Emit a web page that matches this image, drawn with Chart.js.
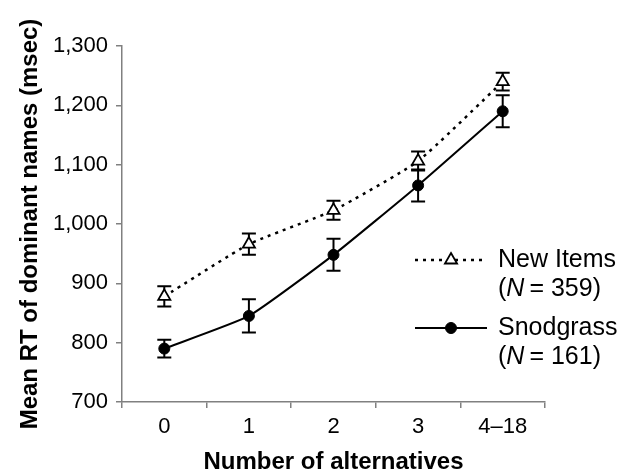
<!DOCTYPE html>
<html>
<head>
<meta charset="utf-8">
<script src="https://cdn.jsdelivr.net/npm/chart.js@4/dist/chart.umd.min.js"></script>
<style>
  html, body { margin: 0; padding: 0; background: #fff; }
  #wrap { width: 624px; height: 474px; position: relative; }
</style>
</head>
<body>
<div id="wrap"><canvas id="rtChart"></canvas></div>
<script>
// ===== DATA =====
const categories = ['0', '1', '2', '3', '4–18'];
const newItemsMeans = [878, 966, 1023, 1106, 1240];
const newItemsErr = [17, 18, 16, 16, 15];
const snodgrassMeans = [790, 845, 948, 1065, 1190];
const snodgrassErr = [15, 28, 27, 27, 27];
const yTicks = [700, 800, 900, 1000, 1100, 1200, 1300];
const seriesNames = ['New Items', 'Snodgrass'];
const seriesCounts = ['359', '161'];

const FONT = "'Liberation Sans', Arial, Helvetica, sans-serif";
const AXIS_GRAY = '#808080';

// Error bars drawn under the markers
const errorBars = {
    id: 'errorBars',
    beforeDatasetsDraw(chart) {
        const ctx = chart.ctx;
        const yScale = chart.scales.y;
        const errs = [newItemsErr, snodgrassErr];
        ctx.save();
        ctx.strokeStyle = '#000';
        ctx.lineWidth = 2;
        chart.data.datasets.forEach((ds, i) => {
            const meta = chart.getDatasetMeta(i);
            meta.data.forEach((pt, j) => {
                const v = ds.data[j];
                const top = yScale.getPixelForValue(v + errs[i][j]);
                const bot = yScale.getPixelForValue(v - errs[i][j]);
                const x = pt.x;
                ctx.beginPath();
                ctx.moveTo(x, top); ctx.lineTo(x, bot);
                ctx.moveTo(x - 7, top); ctx.lineTo(x + 7, top);
                ctx.moveTo(x - 7, bot); ctx.lineTo(x + 7, bot);
                ctx.stroke();
            });
        });
        ctx.restore();
    }
};

// Legend drawn inside the plot, lower right
const insideLegend = {
    id: 'insideLegend',
    afterDraw(chart) {
        const ctx = chart.ctx;
        const area = chart.chartArea;
        const lx0 = area.right - 130, lx1 = area.right - 58, tx = area.right - 47;
        const rows = [area.top + 214, area.top + 282];
        ctx.save();
        rows.forEach((y, i) => {
            const ds = chart.data.datasets[i];
            // sample line
            ctx.strokeStyle = '#000';
            ctx.lineWidth = ds.borderWidth;
            ctx.setLineDash(ds.borderDash || []);
            ctx.beginPath();
            ctx.moveTo(lx0, y); ctx.lineTo(lx1, y);
            ctx.stroke();
            ctx.setLineDash([]);
            // sample marker
            const mx = (lx0 + lx1) / 2;
            ctx.lineWidth = ds.pointBorderWidth;
            ctx.fillStyle = ds.pointBackgroundColor;
            Chart.helpers.drawPoint(ctx, {
                pointStyle: ds.pointStyle,
                radius: ds.pointRadius,
                borderWidth: ds.pointBorderWidth
            }, mx, y);
            // labels
            ctx.fillStyle = '#000';
            ctx.textBaseline = 'middle';
            ctx.textAlign = 'left';
            ctx.font = '25px ' + FONT;
            ctx.fillText(seriesNames[i], tx, y);
            const y2 = y + 29;
            let x = tx;
            ctx.fillText('(', x, y2); x += ctx.measureText('(').width;
            ctx.font = 'italic 25px ' + FONT;
            ctx.fillText('N', x, y2); x += ctx.measureText('N').width;
            ctx.font = '25px ' + FONT;
            ctx.fillText('\u2009= ' + seriesCounts[i] + ')', x, y2);
        });
        ctx.restore();
    }
};

const ctx = document.getElementById('rtChart');
new Chart(ctx, {
    type: 'line',
    data: {
        labels: categories,
        datasets: [
            {
                label: seriesNames[0],
                data: newItemsMeans,
                borderColor: '#000',
                borderWidth: 2.5,
                borderDash: [3, 5],
                tension: 0.15,
                pointStyle: 'triangle',
                pointRadius: 7,
                pointBackgroundColor: '#fff',
                pointBorderColor: '#000',
                pointBorderWidth: 1.8,
                clip: false
            },
            {
                label: seriesNames[1],
                data: snodgrassMeans,
                borderColor: '#000',
                borderWidth: 2,
                tension: 0.15,
                pointStyle: 'circle',
                pointRadius: 5.5,
                pointBackgroundColor: '#000',
                pointBorderColor: '#000',
                pointBorderWidth: 1,
                clip: false
            }
        ]
    },
    options: {
        responsive: true,
        maintainAspectRatio: false,
        animation: false,
        layout: { padding: { top: 46, right: 79, bottom: 0, left: 0 } },
        plugins: {
            legend: { display: false },
            tooltip: { enabled: false }
        },
        scales: {
            x: {
                offset: true,
                grid: {
                    offset: true,
                    drawOnChartArea: false,
                    color: AXIS_GRAY,
                    tickLength: 6,
                    lineWidth: 1.5
                },
                border: { color: AXIS_GRAY, width: 1.5 },
                ticks: {
                    color: '#000',
                    padding: 6,
                    font: { family: FONT, size: 22 }
                },
                title: {
                    display: true,
                    text: 'Number of alternatives',
                    color: '#000',
                    padding: { top: 0, bottom: 0 },
                    font: { family: FONT, size: 24, weight: 'bold', lineHeight: 1 }
                },
                afterFit(scale) { scale.height = 72; }
            },
            y: {
                min: yTicks[0],
                max: yTicks[yTicks.length - 1],
                afterBuildTicks(scale) {
                    scale.ticks = yTicks.map(v => ({ value: v }));
                },
                grid: {
                    drawOnChartArea: false,
                    color: AXIS_GRAY,
                    tickLength: 6,
                    lineWidth: 1.5
                },
                border: { color: AXIS_GRAY, width: 1.5 },
                ticks: {
                    color: '#000',
                    padding: 8,
                    font: { family: FONT, size: 22 }
                },
                title: {
                    display: true,
                    text: 'Mean RT of dominant names (msec)',
                    color: '#000',
                    padding: { top: 18, bottom: 0 },
                    font: { family: FONT, size: 24, weight: 'bold', lineHeight: 1 }
                },
                afterFit(scale) { scale.width = 122; }
            }
        }
    },
    plugins: [errorBars, insideLegend]
});
</script>
</body>
</html>
